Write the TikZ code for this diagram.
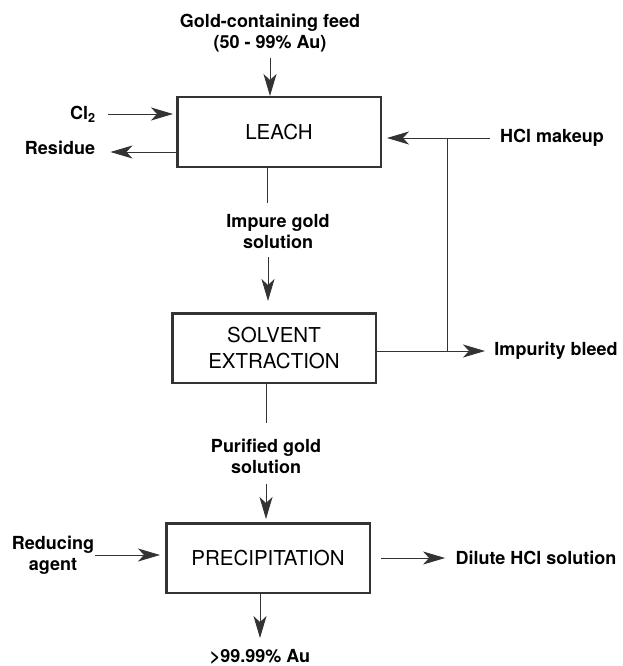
\documentclass[tikz,border=0pt]{standalone}
\usepackage{fontspec}
\setmainfont{TeX Gyre Heros}
\usetikzlibrary{arrows.meta}
\tikzstyle{unitop}=[draw,line width=2.5pt,minimum width=203.5pt,minimum height=69.5pt,font=\fontsize{20.5}{26}\selectfont,align=center]
\tikzstyle{stream}=[font=\bfseries\fontsize{18}{21}\selectfont,align=center,inner sep=0pt]
\tikzstyle{flow}=[-{Stealth[length=22pt,width=13pt,inset=6pt]}]

\begin{document}
\begin{tikzpicture}[x=1pt,y=-1pt,line width=0.9pt,draw=black!80]
  \useasboundingbox (0,0) rectangle (623,666);
  % unit operations
  \node[unitop] (leach) at (279,132) {LEACH};
  \node[unitop] (sx) at (274,348) {SOLVENT\\EXTRACTION};
  \node[unitop] (prec) at (268,558) {PRECIPITATION};
  % streams
  \node[stream] (feed) at (270,33) {Gold-containing feed\\(50 - 99\% Au)};
  \node[stream] (cl) at (83,114) {Cl\textsubscript{2}};
  \node[stream] (residue) at (60,148) {Residue};
  \node[stream] (hcl) at (552,138) {HCl makeup};
  \node[stream] (impure) at (278,232) {Impure gold\\solution};
  \node[stream] (bleed) at (556,351) {Impurity bleed};
  \node[stream] (purified) at (266,456) {Purified gold\\solution};
  \node[stream] (reducing) at (53,555) {Reducing\\agent};
  \node[stream] (dilute) at (536,558) {Dilute HCl solution};
  \node[stream] (product) at (260,657) {\textgreater99.99\% Au};
  \coordinate (split) at (447,351);
  \coordinate (a1) at (267,203);
  \coordinate (a2) at (268,257);
  \coordinate (b1) at (266,423);

  \draw[flow,shorten <=6pt] (feed) -- (feed |- leach.north);
  \draw[flow,shorten <=12pt,shorten >=3pt] (cl.east) -- (cl.east -| leach.west);
  \draw[flow,shorten >=15pt] ([yshift=-4pt]residue.east -| leach.west) -- ([yshift=-4pt]residue.east);
  \draw[flow,shorten <=10pt,shorten >=5pt] (hcl.west) -- (hcl -| leach.east);
  \draw (split) -- (split |- hcl);
  \draw[flow,shorten >=9pt] (bleed -| sx.east) -- (bleed.west);
  \draw (leach.south -| a1) -- (a1);
  \draw[flow,shorten >=11pt] (a2) -- (a2 |- sx.north);
  \draw (sx.south -| b1) -- (b1);
  \draw[flow,shorten <=10pt,shorten >=3pt] (purified) -- (purified |- prec.north);
  \draw[flow,shorten <=1pt,shorten >=5pt] (reducing.east) -- (reducing.east -| prec.west);
  \draw[flow,shorten <=10pt,shorten >=10pt] (dilute -| prec.east) -- (dilute.west);
  \draw[flow,shorten >=11pt] (product |- prec.south) -- (product.north);
\end{tikzpicture}
\end{document}
